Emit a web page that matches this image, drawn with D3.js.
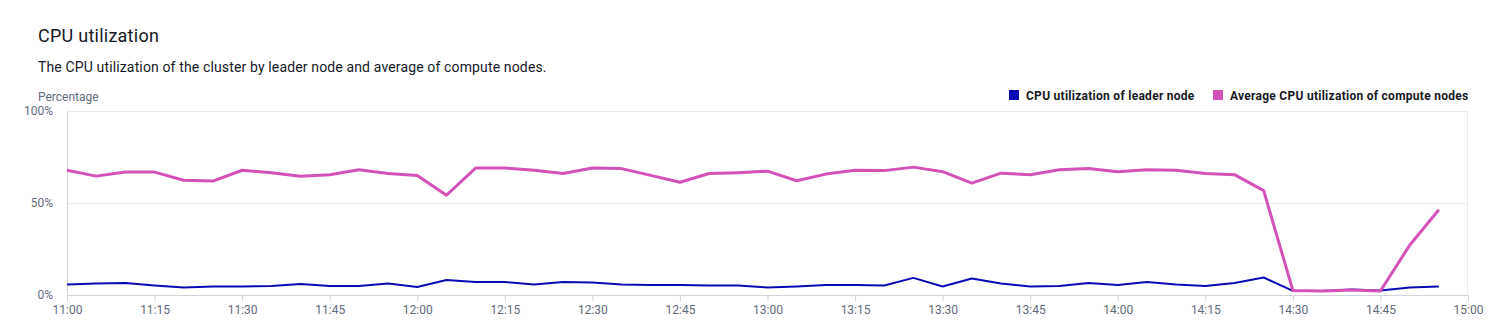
<!doctype html>
<html>
<head>
  <meta charset="utf8"/>
  <style>
    body { margin: 0; background: #fff; }
    text { font-family: Roboto, "Open Sans", sans-serif; }
  </style>
</head>
<body>
  <svg width="1496" height="332"></svg>
  <script src="https://d3js.org/d3.v7.min.js"></script>
  <script>
    // five-minute samples from 11:00 to 14:55
    var startTime = '11:00';
    var leaderCpu = [5.7, 6.3, 6.5, 5.2, 4.1, 4.6, 4.6, 4.9, 6.0, 4.9, 4.9, 6.3,
                     4.4, 8.2, 7.1, 7.1, 5.7, 7.1, 6.8, 5.7, 5.4, 5.4, 5.2, 5.2,
                     4.1, 4.6, 5.4, 5.4, 5.2, 9.3, 4.6, 9.0, 6.3, 4.6, 4.9, 6.5,
                     5.4, 7.1, 5.7, 4.9, 6.5, 9.5, 2.2, 2.2, 3.0, 2.5, 4.1, 4.6];
    var computeCpu = [67.8, 64.6, 66.8, 66.8, 62.4, 61.9, 67.8, 66.5, 64.6, 65.4, 68.1, 66.0,
                      64.9, 54.2, 69.0, 69.0, 67.8, 66.0, 69.0, 68.7, 65.0, 61.3, 66.0, 66.5,
                      67.3, 62.1, 65.7, 67.8, 67.6, 69.5, 67.0, 60.8, 66.2, 65.4, 68.1, 68.7,
                      67.0, 68.1, 67.8, 66.0, 65.4, 56.7, 2.5, 2.2, 2.7, 2.2, 27.0, 46.3];
    var seriesNames = ['CPU utilization of leader node', 'Average CPU utilization of compute nodes'];
    var seriesColors = ['#0a0ab5', '#d452b8'];
    var yTicks = [0, 50, 100];
    var xTickLabels = ['11:00', '11:15', '11:30', '11:45', '12:00', '12:15', '12:30', '12:45',
                       '13:00', '13:15', '13:30', '13:45', '14:00', '14:15', '14:30', '14:45', '15:00'];

    var parseTime = d3.timeParse('%H:%M');
    var t0 = parseTime(startTime);
    var times = leaderCpu.map(function(d, i) { return d3.timeMinute.offset(t0, i * 5); });

    var svg = d3.select('svg'),
        margin = {top: 111, right: 28, bottom: 37, left: 67},
        width = +svg.attr('width') - margin.left - margin.right,
        height = +svg.attr('height') - margin.top - margin.bottom;

    svg.append('text')
       .attr('x', 38).attr('y', 42)
       .attr('font-size', 18).attr('fill', '#16191f')
       .attr('letter-spacing', 0.25)
       .text('CPU utilization');
    svg.append('text')
       .attr('x', 38).attr('y', 72)
       .attr('font-size', 14).attr('fill', '#16191f')
       .attr('letter-spacing', 0.14)
       .text('The CPU utilization of the cluster by leader node and average of compute nodes.');
    svg.append('text')
       .attr('x', 38).attr('y', 101)
       .attr('font-size', 12).attr('fill', '#5f6b7a')
       .text('Percentage');

    var g = svg.append('g')
               .attr('transform', 'translate(' + margin.left + ',' + margin.top + ')');

    var x = d3.scaleTime()
              .domain([parseTime(xTickLabels[0]), parseTime(xTickLabels[xTickLabels.length - 1])])
              .range([0, width]);
    var y = d3.scaleLinear().domain([0, 100]).range([height, 0]);

    // grid
    g.selectAll('.grid').data(yTicks).enter().append('line')
       .attr('x1', 0).attr('x2', width)
       .attr('y1', function(d) { return y(d) + 0.5; })
       .attr('y2', function(d) { return y(d) + 0.5; })
       .attr('stroke', '#e9ebed');
    g.append('line')
       .attr('x1', width - 0.5).attr('x2', width - 0.5)
       .attr('y1', 0).attr('y2', height)
       .attr('stroke', '#e9ebed');

    var yAxis = g.append('g')
       .call(d3.axisLeft(y).tickValues(yTicks).tickSize(0).tickPadding(14)
               .tickFormat(function(d) { return d + '%'; }));
    yAxis.select('.domain').attr('stroke', '#d1d5db');
    yAxis.selectAll('text').attr('font-size', 12).attr('fill', '#5f6b7a')
         .style('font-family', 'Roboto, sans-serif');

    var xAxis = g.append('g')
       .attr('transform', 'translate(0,' + height + ')')
       .call(d3.axisBottom(x)
               .tickValues(xTickLabels.map(parseTime))
               .tickSize(6).tickPadding(4)
               .tickFormat(d3.timeFormat('%H:%M')));
    xAxis.select('.domain').attr('stroke', '#d1d5db');
    xAxis.selectAll('line').attr('stroke', '#d1d5db');
    xAxis.selectAll('text').attr('font-size', 12).attr('fill', '#5f6b7a')
         .style('font-family', 'Roboto, sans-serif');

    var line = d3.line()
                 .x(function(d, i) { return x(times[i]); })
                 .y(function(d) { return y(d); });

    g.append('path').datum(leaderCpu)
       .attr('fill', 'none').attr('stroke', seriesColors[0])
       .attr('stroke-width', 2).attr('stroke-linejoin', 'round')
       .attr('d', line);
    g.append('path').datum(computeCpu)
       .attr('fill', 'none').attr('stroke', seriesColors[1])
       .attr('stroke-width', 3).attr('stroke-linejoin', 'round')
       .attr('d', line);

    // legend
    var legendX = [1009, 1213];
    var legend = svg.selectAll('.legend').data(seriesNames).enter().append('g')
       .attr('transform', function(d, i) { return 'translate(' + legendX[i] + ',90)'; });
    legend.append('rect').attr('width', 10).attr('height', 10)
       .attr('fill', function(d, i) { return seriesColors[i]; });
    legend.append('text').attr('x', 17).attr('y', 9.5)
       .attr('font-size', 12).attr('font-weight', 'bold').attr('fill', '#16191f')
       .attr('letter-spacing', 0.27)
       .text(function(d) { return d; });
  </script>
</body>
</html>
